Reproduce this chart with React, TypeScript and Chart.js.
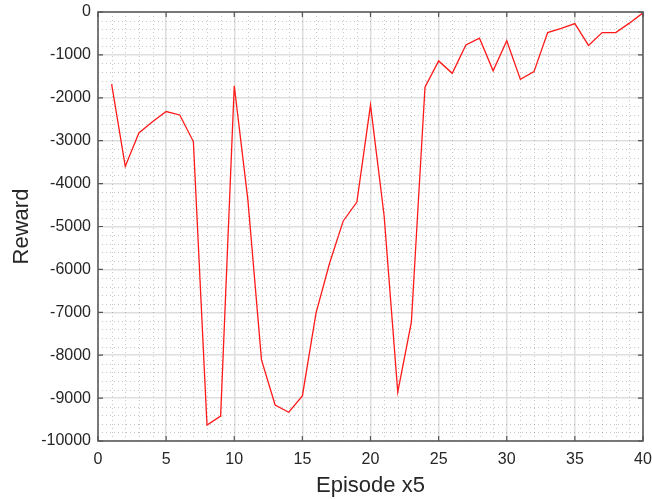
import React, { useEffect, useRef } from "react";
import { Chart, registerables } from "chart.js";

Chart.register(...registerables);

const episodes = [
  1, 2, 3, 4, 5, 6, 7, 8, 9, 10, 11, 12, 13, 14, 15, 16, 17, 18, 19, 20,
  21, 22, 23, 24, 25, 26, 27, 28, 29, 30, 31, 32, 33, 34, 35, 36, 37, 38, 39, 40,
];
const rewards = [
  -1680, -3600, -2820, -2560, -2320, -2400, -3020, -9630, -9420, -1720,
  -4380, -8110, -9160, -9330, -8950, -7020, -5850, -4870, -4430, -2170,
  -4750, -8860, -7230, -1750, -1140, -1430, -770, -610, -1370, -670,
  -1570, -1390, -480, -380, -270, -780, -480, -480, -260, -20,
];
const xTicks = [0, 5, 10, 15, 20, 25, 30, 35, 40];
const yTicks = [0, -1000, -2000, -3000, -4000, -5000, -6000, -7000, -8000, -9000, -10000];

const AXIS = "#262626";

const matlabAxes = {
  id: "matlabAxes",
  beforeDatasetsDraw(chart: any) {
    const { ctx, chartArea: a, scales } = chart;
    const xs = scales.x;
    const ys = scales.y;
    ctx.save();
    ctx.strokeStyle = "rgba(80,80,80,0.32)";
    ctx.lineWidth = 1;
    ctx.setLineDash([1, 3]);
    for (let v = xs.min; v <= xs.max; v += 1) {
      if (v % 5 === 0) continue;
      const px = Math.round(xs.getPixelForValue(v)) + 0.5;
      ctx.beginPath();
      ctx.moveTo(px, a.top);
      ctx.lineTo(px, a.bottom);
      ctx.stroke();
    }
    for (let v = ys.min; v <= ys.max; v += 200) {
      if (v % 1000 === 0) continue;
      const py = Math.round(ys.getPixelForValue(v)) + 0.5;
      ctx.beginPath();
      ctx.moveTo(a.left, py);
      ctx.lineTo(a.right, py);
      ctx.stroke();
    }
    ctx.restore();
  },
  afterDatasetsDraw(chart: any) {
    const { ctx, chartArea: a, scales } = chart;
    const xs = scales.x;
    const ys = scales.y;
    ctx.save();
    ctx.strokeStyle = "#555555";
    ctx.lineWidth = 1.5;
    ctx.setLineDash([]);
    ctx.strokeRect(a.left, a.top, a.right - a.left, a.bottom - a.top);
    const tl = 5;
    ctx.lineWidth = 1.2;
    xTicks.forEach((v) => {
      const px = xs.getPixelForValue(v);
      ctx.beginPath();
      ctx.moveTo(px, a.bottom);
      ctx.lineTo(px, a.bottom - tl);
      ctx.moveTo(px, a.top);
      ctx.lineTo(px, a.top + tl);
      ctx.stroke();
    });
    yTicks.forEach((v) => {
      const py = ys.getPixelForValue(v);
      ctx.beginPath();
      ctx.moveTo(a.left, py);
      ctx.lineTo(a.left + tl, py);
      ctx.moveTo(a.right, py);
      ctx.lineTo(a.right - tl, py);
      ctx.stroke();
    });
    ctx.restore();
  },
};

export default function App() {
  const ref = useRef<HTMLCanvasElement | null>(null);
  useEffect(() => {
    if (!ref.current) return;
    const data = episodes.map((e, i) => ({ x: e, y: rewards[i] }));
    const chart = new Chart(ref.current, {
      type: "line",
      data: {
        datasets: [
          {
            data,
            borderColor: "#ff1a1a",
            borderWidth: 1.3,
            pointRadius: 0,
            tension: 0,
            fill: false,
          },
        ],
      },
      options: {
        responsive: false,
        animation: false,
        events: [],
        layout: { padding: { left: 0, right: 9, top: 12, bottom: 0 } },
        plugins: { legend: { display: false }, tooltip: { enabled: false } },
        scales: {
          x: {
            type: "linear",
            min: 0,
            max: 40,
            afterFit: (s: any) => {
              s.height = 58;
              s.paddingLeft = 0;
              s.paddingRight = 0;
            },
            afterBuildTicks: (s: any) => {
              s.ticks = xTicks.map((v) => ({ value: v }));
            },
            ticks: {
              padding: 9,
              color: AXIS,
              font: { family: "'Liberation Sans', Arial, sans-serif", size: 16 },
              maxRotation: 0,
              autoSkip: false,
              callback: (v: any) => String(v),
            },
            grid: { color: "#dedede", lineWidth: 1.5, drawTicks: false },
            border: { display: false },
            title: {
              display: true,
              text: "Episode x5",
              color: AXIS,
              font: { family: "'Liberation Sans', Arial, sans-serif", size: 22 },
              padding: { top: 0, bottom: 0 },
            },
          },
          y: {
            type: "linear",
            min: -10000,
            max: 0,
            afterFit: (s: any) => {
              s.width = 98;
              s.paddingTop = 0;
              s.paddingBottom = 0;
            },
            afterBuildTicks: (s: any) => {
              s.ticks = yTicks.map((v) => ({ value: v }));
            },
            ticks: {
              padding: 7,
              color: AXIS,
              font: { family: "'Liberation Sans', Arial, sans-serif", size: 16 },
              autoSkip: false,
              callback: (v: any) => String(v),
            },
            grid: { color: "#dedede", lineWidth: 1.5, drawTicks: false },
            border: { display: false },
            title: {
              display: true,
              text: "Reward",
              color: AXIS,
              font: { family: "'Liberation Sans', Arial, sans-serif", size: 22 },
              padding: { top: 9, bottom: 0 },
            },
          },
        },
      },
      plugins: [matlabAxes],
    });
    return () => chart.destroy();
  }, []);
  return (
    <div style={{ position: "fixed", left: 0, top: 0, width: 652, height: 499, background: "#fff" }}>
      <canvas ref={ref} width={652} height={499} style={{ display: "block" }} />
    </div>
  );
}
